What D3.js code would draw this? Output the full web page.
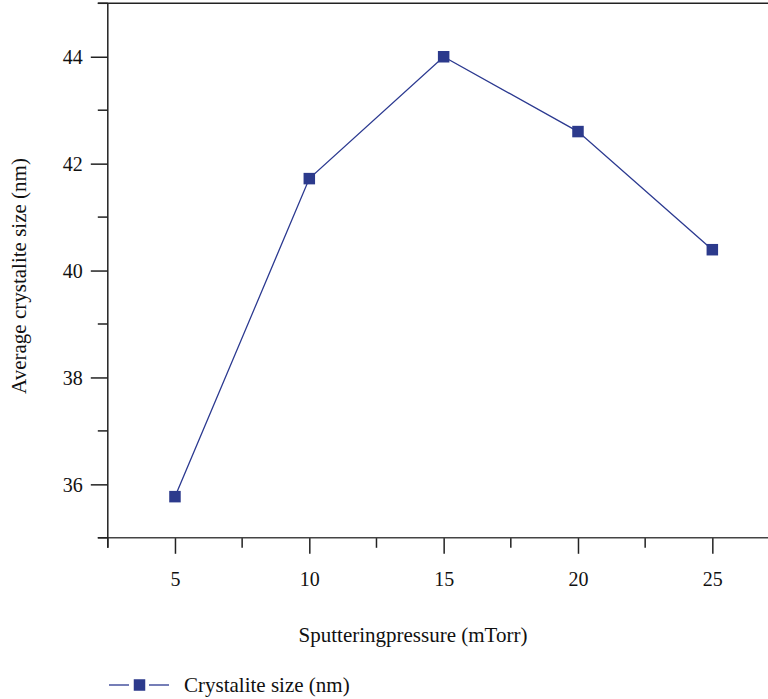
<!DOCTYPE html>
<html>
<head>
<meta charset="utf-8">
<script src="https://cdn.jsdelivr.net/npm/d3@7"></script>
<style>
  html, body { margin: 0; padding: 0; background: #fff; }
  svg { display: block; }
  text { font-family: "Liberation Serif", "DejaVu Serif", serif; fill: #111; }
</style>
</head>
<body>
<svg id="chart" width="768" height="699"></svg>
<script>
// Sputtering pressure (mTorr) vs. average crystallite size (nm)
const pressure = [5, 10, 15, 20, 25];
const crystalliteSize = [35.77, 41.72, 44.0, 42.6, 40.39];
const xTickValues = [5, 10, 15, 20, 25];
const yTickValues = [36, 38, 40, 42, 44];
const seriesName = "Crystalite size (nm)";
const xTitle = "Sputteringpressure (mTorr)";
const yTitle = "Average crystalite size (nm)";

const svg = d3.select("#chart");
const W = 768;
const lineColor = "#2b3990";
const markColor = "#2c3a8c";
const axisColor = "#222";
const serif = "'Liberation Serif', 'DejaVu Serif', serif";

const x = d3.scaleLinear().domain([2.5, 27.5]).range([107.8, 779.5]);
const y = d3.scaleLinear().domain([35, 45]).range([537.8, 3.3]);

// minor tick positions halfway between majors
const xMinor = d3.range(2.5, 28, 5);
const yMinor = d3.range(35, 46, 2);

// top frame line
svg.append("line")
  .attr("x1", x(2.5) - 10).attr("x2", W)
  .attr("y1", y(45)).attr("y2", y(45))
  .attr("stroke", axisColor).attr("stroke-width", 1.5);

// x axis
const xAxis = svg.append("g").attr("transform", `translate(0,${y(35)})`);
xAxis.call(d3.axisBottom(x).tickValues(xTickValues).tickSize(16).tickPadding(18)
  .tickFormat(d3.format("d")));
xAxis.append("g").selectAll("line").data(xMinor).join("line")
  .attr("x1", d => x(d)).attr("x2", d => x(d))
  .attr("y1", 0).attr("y2", 10)
  .attr("stroke", axisColor).attr("stroke-width", 1.5);
xAxis.select(".domain").remove();
xAxis.append("line").attr("x1", x(2.5) - 10).attr("x2", W).attr("y1", 0).attr("y2", 0)
  .attr("stroke", "#444").attr("stroke-width", 1.5);

// y axis
const yAxis = svg.append("g").attr("transform", `translate(${x(2.5)},0)`);
yAxis.call(d3.axisLeft(y).tickValues(yTickValues).tickSize(17).tickPadding(8)
  .tickFormat(d3.format("d")));
yAxis.append("g").selectAll("line").data(yMinor).join("line")
  .attr("x1", -10).attr("x2", 0)
  .attr("y1", d => y(d)).attr("y2", d => y(d))
  .attr("stroke", axisColor).attr("stroke-width", 1.5);
yAxis.select(".domain").remove();
yAxis.append("line").attr("x1", 0).attr("x2", 0).attr("y1", y(45)).attr("y2", y(35) + 10)
  .attr("stroke", axisColor).attr("stroke-width", 1.5);

[xAxis, yAxis].forEach(g => {
  g.attr("font-family", serif).attr("font-size", 20);
  g.selectAll(".tick line").attr("stroke", axisColor).attr("stroke-width", 1.5);
  g.selectAll(".tick text").attr("fill", "#111");
});
yAxis.selectAll(".tick text").attr("dy", "0.34em");

// data line
const data = pressure.map((p, i) => ({ p, v: crystalliteSize[i] }));
svg.append("path")
  .datum(data)
  .attr("fill", "none")
  .attr("stroke", lineColor)
  .attr("stroke-width", 1.3)
  .attr("d", d3.line().x(d => x(d.p)).y(d => y(d.v)));

const ms = 11.5;
svg.append("g").selectAll("rect").data(data).join("rect")
  .attr("x", d => x(d.p) - ms / 2)
  .attr("y", d => y(d.v) - ms / 2)
  .attr("width", ms).attr("height", ms)
  .attr("fill", markColor);

// axis titles
svg.append("text")
  .attr("x", 413).attr("y", 642)
  .attr("text-anchor", "middle")
  .attr("font-size", 21)
  .text(xTitle);

svg.append("text")
  .attr("transform", "translate(26,276) rotate(-90)")
  .attr("text-anchor", "middle")
  .attr("font-size", 21)
  .text(yTitle);

// legend
const lg = svg.append("g").attr("transform", "translate(0,685)");
lg.append("line").attr("x1", 109).attr("x2", 129).attr("y1", 0).attr("y2", 0)
  .attr("stroke", lineColor).attr("stroke-width", 1.3);
lg.append("line").attr("x1", 149).attr("x2", 169).attr("y1", 0).attr("y2", 0)
  .attr("stroke", lineColor).attr("stroke-width", 1.3);
lg.append("rect").attr("x", 139.5 - ms / 2).attr("y", -ms / 2)
  .attr("width", ms).attr("height", ms).attr("fill", markColor);
lg.append("text").attr("x", 184).attr("y", 7)
  .attr("font-size", 21)
  .text(seriesName);
</script>
</body>
</html>
